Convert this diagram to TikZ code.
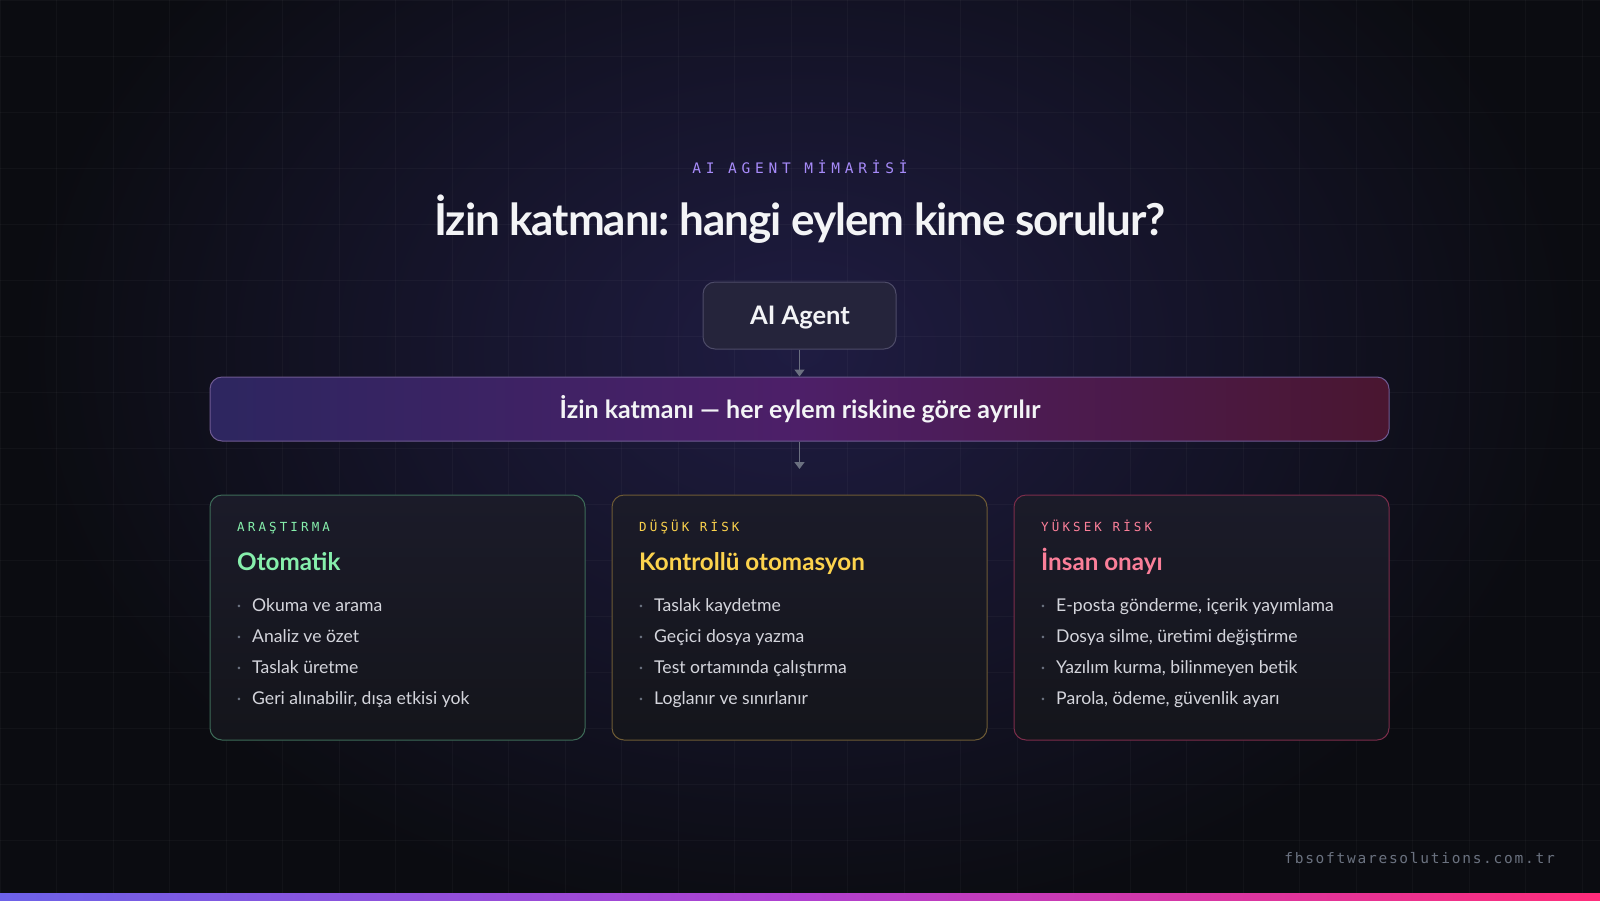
\documentclass[tikz,border=0pt]{standalone}
\usepackage{fontspec}
\setmainfont{Lato}
\newfontfamily\titlefont[LetterSpace=-2.5]{Lato}
\newfontfamily\monohead[LetterSpace=33]{DejaVu Sans Mono}
\newfontfamily\monolbl[LetterSpace=25]{DejaVu Sans Mono}
\newfontfamily\monofoot[LetterSpace=12]{DejaVu Sans Mono}
\usetikzlibrary{arrows.meta}
\definecolor{bgc}{HTML}{0B0C11}
\definecolor{glow}{HTML}{1F1C42}
\definecolor{subc}{HTML}{A78BFA}
\definecolor{titc}{HTML}{F3F4F6}
\definecolor{agfill}{HTML}{25243B}
\definecolor{agline}{HTML}{4D4B68}
\definecolor{arrc}{HTML}{6B7080}
\definecolor{bandL}{HTML}{2D2660}
\definecolor{bandM}{HTML}{4D1F68}
\definecolor{bandR}{HTML}{4A1630}
\definecolor{bandline}{HTML}{6E5A92}
\definecolor{cardtop}{HTML}{1B1B29}
\definecolor{cardbot}{HTML}{14151B}
\definecolor{greenc}{HTML}{86EFAC}
\definecolor{greenl}{HTML}{3D6B58}
\definecolor{yellowc}{HTML}{FCD34D}
\definecolor{yellowl}{HTML}{6E5B35}
\definecolor{pinkc}{HTML}{FB7F99}
\definecolor{pinkl}{HTML}{7C2D4B}
\definecolor{itemc}{HTML}{D4D5DC}
\definecolor{bulc}{HTML}{6B7280}
\definecolor{footc}{HTML}{6B7280}
\definecolor{barL}{HTML}{6D62E8}
\definecolor{barM}{HTML}{B040D0}
\definecolor{barR}{HTML}{FF2D7A}
\tikzset{
  gridln/.style={white, opacity=0.03, line width=1pt},
  agentbox/.style={draw=agline, fill=agfill, line width=1pt, rounded corners=12pt,
    minimum width=193pt, minimum height=67pt, inner sep=0pt},
  bandbox/.style={draw=bandline, line width=1pt, rounded corners=12pt,
    minimum width=1179pt, minimum height=64pt, inner sep=0pt,
    left color=bandL, right color=bandR, middle color=bandM},
  cardbox/.style={line width=1pt, rounded corners=12pt,
    minimum width=375pt, minimum height=245pt, inner sep=0pt,
    top color=cardtop, bottom color=cardbot},
  arr/.style={draw=arrc, line width=1.5pt, -{Triangle[width=10pt,length=7pt]}},
  txt/.style={inner sep=0pt, anchor=base},
  lbl/.style={inner sep=0pt, anchor=base west, font=\monolbl\fontsize{12.5pt}{14pt}\selectfont},
  ttl/.style={inner sep=0pt, anchor=base west, font=\bfseries\fontsize{24.2pt}{27pt}\selectfont},
  itm/.style={inner sep=0pt, anchor=base west, text=itemc, font=\fontsize{17.6pt}{20pt}\selectfont},
  bul/.style={inner sep=0pt, anchor=base, text=bulc, font=\fontsize{17pt}{20pt}\selectfont},
}
\newcommand\riskcard[9]{%
  \node[cardbox, draw=#4] (#1) at ({#2+187.5},617.5) {};
  \node[lbl, text=#3] (#1-lbl) at ({#2+27},531) {#5};
  \node[ttl, text=#3] (#1-ttl) at ({#2+27},570) {#6};
  \foreach \t [count=\i] in {#7} {
    \node[bul] (#1-b\i) at ({#2+29},{611+31*(\i-1)}) {·};
    \node[itm] (#1-i\i) at ({#2+42},{611+31*(\i-1)}) {\t};
  }
}
\begin{document}
\frenchspacing
\begin{tikzpicture}[x=1pt,y=-1pt]
\useasboundingbox (0,0) rectangle (1600,900);
\fill[bgc] (0,0) rectangle (1600,900);
\shade[inner color=glow, outer color=bgc] (800,350) ellipse [x radius=780, y radius=580];
\foreach \gx in {0,56.5,...,1600} { \draw[gridln] (\gx,0) -- (\gx,900); }
\foreach \gy in {0,56,...,900} { \draw[gridln] (0,\gy) -- (1600,\gy); }

\node[txt, text=subc, font=\monohead\fontsize{14.5pt}{16pt}\selectfont] (sub) at (800,173) {AI AGENT MİMARİSİ};
\node[txt, text=titc, font=\titlefont\bfseries\fontsize{44pt}{50pt}\selectfont] (title) at (800,235) {İzin katmanı: hangi eylem kime sorulur?};

\node[agentbox] (agent) at (799.5,315.5) {};
\node[txt, text=titc, font=\bfseries\fontsize{25.5pt}{30pt}\selectfont] (agentlbl) at (800,324) {AI Agent};

\node[bandbox] (band) at (799.5,409) {};
\node[txt, text=titc, font=\bfseries\fontsize{25pt}{28pt}\selectfont] (bandlbl) at (800,418) {İzin katmanı — her eylem riskine göre ayrılır};

\coordinate (cardtopmid) at (799.5,469);
\draw[arr] (agent.south) -- (band.north);
\draw[arr] (band.south) -- (cardtopmid);

\riskcard{c1}{210}{greenc}{greenl}{ARAŞTIRMA}{Otomatik}{Okuma ve arama,Analiz ve özet,Taslak üretme,{Geri alınabilir, dışa etkisi yok}}{}{}
\riskcard{c2}{612}{yellowc}{yellowl}{DÜŞÜK RİSK}{Kontrollü otomasyon}{Taslak kaydetme,Geçici dosya yazma,Test ortamında çalıştırma,Loglanır ve sınırlanır}{}{}
\riskcard{c3}{1014}{pinkc}{pinkl}{YÜKSEK RİSK}{İnsan onayı}{{E-posta gönderme, içerik yayımlama},{Dosya silme, üretimi değiştirme},{Yazılım kurma, bilinmeyen betik},{Parola, ödeme, güvenlik ayarı}}{}{}

\node[inner sep=0pt, anchor=base east, text=footc, font=\monofoot\fontsize{14.5pt}{16pt}\selectfont] (foot) at (1555,863) {fbsoftwaresolutions.com.tr};

\shade[left color=barL, right color=barR, middle color=barM] (0,893.5) rectangle (1600,900);
\end{tikzpicture}
\end{document}
